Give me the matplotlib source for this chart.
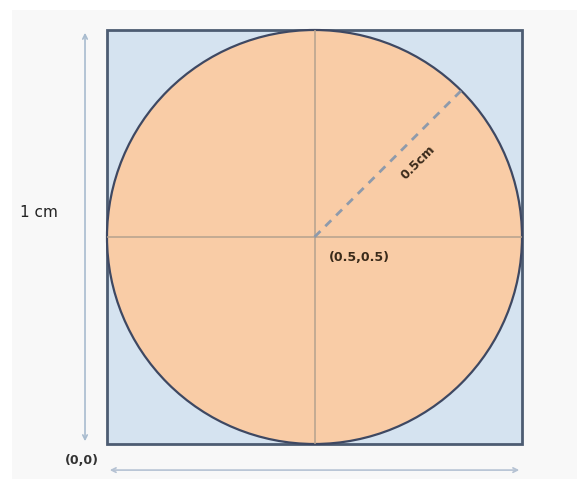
import numpy as np
import matplotlib.pyplot as plt
from matplotlib.patches import Rectangle, Circle, FancyArrowPatch

# geometry of the figure (unit square with inscribed circle)
square_size = 1.0
center = (0.5, 0.5)
radius = 0.5
angle_deg = 45
side_label = "1 cm"
radius_label = "0.5cm"
center_label = "(0.5,0.5)"
origin_label = "(0,0)"

fig = plt.figure(figsize=(5.86, 4.86), dpi=100, facecolor="white")
# light panel behind the drawing
bg = fig.add_axes([0.02, 0.015, 0.965, 0.965])
bg.set_facecolor("#f8f8f8")
bg.set_xticks([])
bg.set_yticks([])
for s in bg.spines.values():
	s.set_visible(False)

ax = fig.add_axes([107 / 586, 1 - 444 / 486, 415 / 586, 414 / 486])
ax.set_xlim(0, square_size)
ax.set_ylim(0, square_size)
ax.axis("off")

# square
ax.add_patch(Rectangle((0, 0), square_size, square_size, facecolor="#d5e3f0",
	edgecolor="#4d5c72", linewidth=2, zorder=1, clip_on=False))

# circle
ax.add_patch(Circle(center, radius, facecolor="#f9cca6", edgecolor="#3e4862",
	linewidth=1.6, zorder=2, clip_on=False))

# cross through centre
ax.plot([center[0], center[0]], [0, square_size], color="#b5a18e", lw=1.1, zorder=3)
ax.plot([0, square_size], [center[1], center[1]], color="#b5a18e", lw=1.1, zorder=3)

# dashed radius
a = np.deg2rad(angle_deg)
ex = center[0] + radius * np.cos(a)
ey = center[1] + radius * np.sin(a)
ax.plot([center[0], ex], [center[1], ey], color="#8e9aab", lw=2, ls=(0, (3, 2.5)), zorder=4)

# labels
ax.text(center[0] + 0.25, center[1] + 0.18, radius_label, rotation=angle_deg,
	ha="center", va="center", fontsize=9, fontweight="bold", color="#3a2a1a", zorder=5)
ax.text(center[0] + 0.035, center[1] - 0.05, center_label, ha="left", va="center",
	fontsize=9, fontweight="bold", color="#3a2a1a", zorder=5)
ax.text(-0.06, -0.04, origin_label, ha="center", va="center", fontsize=9,
	fontweight="bold", color="#333333", clip_on=False)
ax.text(-0.165, center[1] + 0.06, side_label, ha="center", va="center", fontsize=11,
	color="#222222", clip_on=False)

# dimension arrows
varrow = FancyArrowPatch((-0.053, 0), (-0.053, square_size), arrowstyle="<->",
	mutation_scale=8, color="#a9bccf", lw=1.2, clip_on=False)
ax.add_patch(varrow)
harrow = FancyArrowPatch((0, -0.063), (square_size, -0.063), arrowstyle="<->",
	mutation_scale=8, color="#b5c2d3", lw=1.2, clip_on=False)
ax.add_patch(harrow)

plt.savefig("out.png", dpi=100, facecolor="white")
